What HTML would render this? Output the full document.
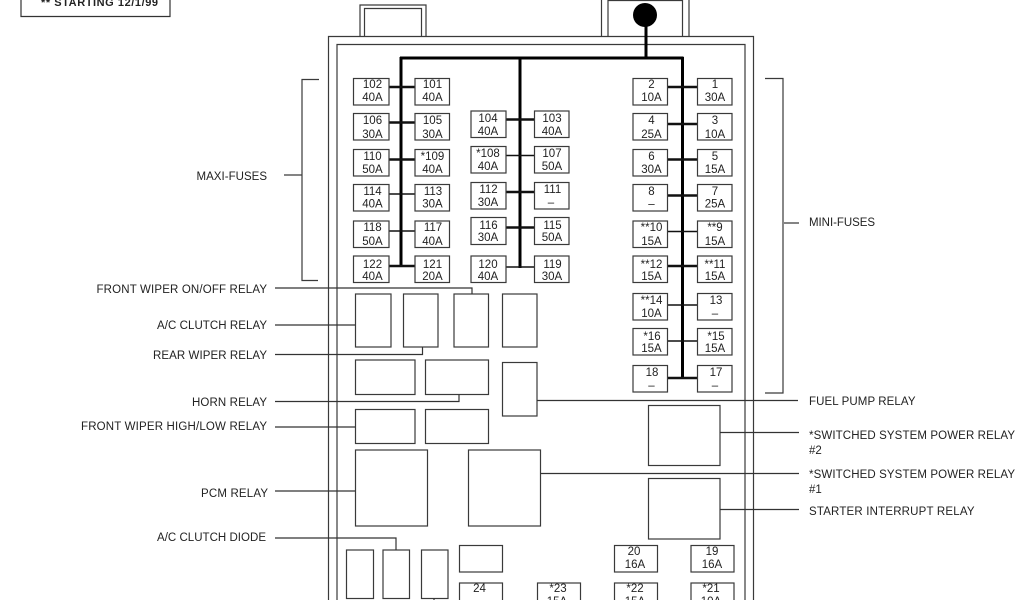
<!DOCTYPE html>
<html><head><meta charset="utf-8"><title>Fuse panel diagram</title>
<style>
html,body{margin:0;padding:0;background:#fff;width:1024px;height:600px;overflow:hidden}
svg{display:block}
text{font-family:"Liberation Sans",sans-serif;fill:#222}
.l{font-size:11.5px}
.f{font-size:11.5px;text-anchor:middle}
.b rect,.b path{fill:none;stroke:#3a3a3a;stroke-width:1.2}
.w{fill:none;stroke:#333;stroke-width:1.2}
.t{fill:none;stroke:#111;stroke-width:2.4}
.m{fill:none;stroke:#111;stroke-width:1.6}
.k{fill:none;stroke:#000;stroke-width:3}
</style></head><body>
<svg width="1024" height="600" viewBox="0 0 1024 600" xmlns="http://www.w3.org/2000/svg">
<path class="w" d="M21 -2V16.5H170V-2"/>
<text x="41" y="6" font-size="11" font-weight="bold" textLength="117" lengthAdjust="spacing">** STARTING 12/1/99</text>

<g class="b">
<path d="M360 36V5H426V36M364.500 36V8.500H421.500V36"/>
<path d="M601.500 36V-2M689 36V-2M608 36V0.500H682.500V36"/>
<path d="M328.500 600V36.500H753.500V600M337 600V44.500H745V600"/>
<path d="M319 79.500H302V280.500H318M284 175H302"/>
<path d="M765 78.500H783V393H765M784 223H799"/>
</g>

<circle cx="645" cy="15" r="12" fill="#000"/>
<path class="k" d="M646 25V58M400 58H683.500M401 57V266M520 57V268M682.500 57V379"/>

<g class="t">
<path d="M389 87H415M389 122.500H415M389 159.500H415M389 266H415"/>
<path d="M506 119.500H534M506 192H534M506 227.500H534"/>
<path d="M667 87H697M667 124H697M667 159.500H697M667 195.500H697M667 266H697M667 378H697"/>
</g>
<g class="m">
<path d="M389 194H415M389 231H415"/>
<path d="M506 155.500H534M506 267H534"/>
<path d="M667 231.500H697M667 305H697M667 341H697"/>
</g>

<g class="b">
<rect x="353.500" y="78.500" width="35.500" height="26.500" fill="#fff"/>
<rect x="353.500" y="113.500" width="35.500" height="26.500"/>
<rect x="353.500" y="149.500" width="35.500" height="26.500"/>
<rect x="353.500" y="184.500" width="35.500" height="26.500"/>
<rect x="353.500" y="221" width="35.500" height="26.500"/>
<rect x="353.500" y="256" width="35.500" height="26.500"/>
<rect x="415" y="78.500" width="34.500" height="26.500"/>
<rect x="415" y="113.500" width="34.500" height="26.500"/>
<rect x="415" y="149.500" width="34.500" height="26.500"/>
<rect x="415" y="184.500" width="34.500" height="26.500"/>
<rect x="415" y="221" width="34.500" height="26.500"/>
<rect x="415" y="256" width="34.500" height="26.500"/>
<rect x="471" y="111" width="35" height="26.500"/>
<rect x="471" y="146.500" width="35" height="26.500"/>
<rect x="471" y="182.500" width="35" height="26.500"/>
<rect x="471" y="217.500" width="35" height="27"/>
<rect x="471" y="256" width="35" height="26.500"/>
<rect x="534.500" y="111" width="34.500" height="26.500"/>
<rect x="534.500" y="146.500" width="34.500" height="26.500"/>
<rect x="534.500" y="182.500" width="34.500" height="26.500"/>
<rect x="534.500" y="217.500" width="34.500" height="27"/>
<rect x="534.500" y="256" width="34.500" height="26.500"/>
<rect x="633" y="78.500" width="34.500" height="26.500"/>
<rect x="633" y="113.500" width="34.500" height="26.500"/>
<rect x="633" y="149.500" width="34.500" height="26.500"/>
<rect x="633" y="184.500" width="34.500" height="26.500"/>
<rect x="633" y="221" width="34.500" height="26.500"/>
<rect x="633" y="256" width="34.500" height="26.500"/>
<rect x="633" y="293.500" width="34.500" height="26.500"/>
<rect x="633" y="328.500" width="34.500" height="26.500"/>
<rect x="633" y="365.500" width="34.500" height="26.500"/>
<rect x="697.500" y="78.500" width="34.500" height="26.500"/>
<rect x="697.500" y="113.500" width="34.500" height="26.500"/>
<rect x="697.500" y="149.500" width="34.500" height="26.500"/>
<rect x="697.500" y="184.500" width="34.500" height="26.500"/>
<rect x="697.500" y="221" width="34.500" height="26.500"/>
<rect x="697.500" y="256" width="34.500" height="26.500"/>
<rect x="697.500" y="293.500" width="34.500" height="26.500"/>
<rect x="697.500" y="328.500" width="34.500" height="26.500"/>
<rect x="697.500" y="365.500" width="34.500" height="26.500"/>

<rect x="355.500" y="294" width="35.500" height="53"/>
<rect x="403.500" y="294" width="34.500" height="53"/>
<rect x="454" y="294" width="34.500" height="53"/>
<rect x="502.500" y="294" width="34.500" height="53"/>
<rect x="355.500" y="360" width="59.500" height="34.500"/>
<rect x="425.500" y="360" width="63" height="34.500"/>
<rect x="502.500" y="362.500" width="34.500" height="53.500"/>
<rect x="355.500" y="409.500" width="59.500" height="34"/>
<rect x="425.500" y="409.500" width="63" height="34"/>
<rect x="355.500" y="450" width="72" height="76"/>
<rect x="468.500" y="450" width="72" height="76"/>
<rect x="648.500" y="405.500" width="71.500" height="60"/>
<rect x="648.500" y="478.500" width="71.500" height="60.500"/>

<rect x="346.500" y="550" width="27" height="48.500"/>
<rect x="383" y="550" width="26.500" height="48.500"/>
<rect x="421.500" y="550" width="26.500" height="48.500"/>
<rect x="459.500" y="545.500" width="43" height="26.500"/>
<rect x="614.500" y="545.500" width="43" height="26.500"/>
<rect x="691" y="545.500" width="43" height="26.500"/>
<rect x="459.500" y="583" width="43" height="30"/>
<rect x="537.500" y="583" width="43" height="30"/>
<rect x="614.500" y="583" width="43" height="30"/>
<rect x="691" y="583" width="43" height="30"/>
</g>

<path class="w" d="M275 288H472V294M275 325H355.500M275 354.500H422.500V347M275 401.500H459V394.500M275 427H355.500M275 491H355.500M275 538H396V550M434 598V600"/>
<path class="w" d="M537 400.500H798M720 432.500H799M540.500 473.500H799M720 509.500H799"/>

<g class="l">
<text x="196.500" y="180" textLength="70.500" lengthAdjust="spacing">MAXI-FUSES</text>
<text x="96.500" y="293" textLength="170.500" lengthAdjust="spacing">FRONT WIPER ON/OFF RELAY</text>
<text x="157" y="329" textLength="110" lengthAdjust="spacing">A/C CLUTCH RELAY</text>
<text x="153" y="359" textLength="114" lengthAdjust="spacing">REAR WIPER RELAY</text>
<text x="192" y="406" textLength="75" lengthAdjust="spacing">HORN RELAY</text>
<text x="81" y="430" textLength="186" lengthAdjust="spacing">FRONT WIPER HIGH/LOW RELAY</text>
<text x="201" y="497" textLength="67" lengthAdjust="spacing">PCM RELAY</text>
<text x="157" y="541" textLength="109" lengthAdjust="spacing">A/C CLUTCH DIODE</text>
<text x="809" y="226" textLength="66" lengthAdjust="spacing">MINI-FUSES</text>
<text x="809" y="405" textLength="106.500" lengthAdjust="spacing">FUEL PUMP RELAY</text>
<text x="809" y="439" textLength="206" lengthAdjust="spacing">*SWITCHED SYSTEM POWER RELAY</text>
<text x="809" y="454">#2</text>
<text x="809" y="478" textLength="206" lengthAdjust="spacing">*SWITCHED SYSTEM POWER RELAY</text>
<text x="809" y="493">#1</text>
<text x="809" y="515" textLength="165.500" lengthAdjust="spacing">STARTER INTERRUPT RELAY</text>
</g>

<g class="f">
<text x="372.500" y="88">102</text><text x="372.500" y="101">40A</text>
<text x="372.500" y="124">106</text><text x="372.500" y="138">30A</text>
<text x="372.500" y="160">110</text><text x="372.500" y="173">50A</text>
<text x="372.500" y="195">114</text><text x="372.500" y="207.500">40A</text>
<text x="372.500" y="231">118</text><text x="372.500" y="245">50A</text>
<text x="372.500" y="268">122</text><text x="372.500" y="280">40A</text>
<text x="432.500" y="88">101</text><text x="432.500" y="101">40A</text>
<text x="432.500" y="124">105</text><text x="432.500" y="138">30A</text>
<text x="432.500" y="160">*109</text><text x="432.500" y="173">40A</text>
<text x="433" y="195">113</text><text x="432.500" y="207.500">30A</text>
<text x="433" y="231">117</text><text x="432.500" y="245">40A</text>
<text x="432.500" y="268">121</text><text x="432.500" y="280">20A</text>
<text x="488" y="122">104</text><text x="488" y="135">40A</text>
<text x="488" y="157">*108</text><text x="488" y="170">40A</text>
<text x="488.500" y="193">112</text><text x="488" y="206">30A</text>
<text x="488.500" y="229">116</text><text x="488" y="241">30A</text>
<text x="488" y="268">120</text><text x="488" y="280">40A</text>
<text x="552" y="122">103</text><text x="552" y="135">40A</text>
<text x="552" y="157">107</text><text x="552" y="170">50A</text>
<text x="552.500" y="193">111</text><text x="551" y="206">–</text>
<text x="552.500" y="229">115</text><text x="552" y="241">50A</text>
<text x="552.500" y="268">119</text><text x="552" y="280">30A</text>
<text x="651.500" y="88">2</text><text x="651.500" y="101">10A</text>
<text x="651.500" y="124">4</text><text x="651.500" y="138">25A</text>
<text x="651.500" y="160">6</text><text x="651.500" y="173">30A</text>
<text x="651.500" y="195">8</text><text x="651.500" y="207.500">–</text>
<text x="651.500" y="231">**10</text><text x="651.500" y="245">15A</text>
<text x="651.500" y="268">**12</text><text x="651.500" y="280">15A</text>
<text x="651.500" y="304">**14</text><text x="651.500" y="317">10A</text>
<text x="652" y="340">*16</text><text x="651.500" y="352">15A</text>
<text x="652" y="376">18</text><text x="651.500" y="389">–</text>
<text x="715" y="88">1</text><text x="715" y="101">30A</text>
<text x="715" y="124">3</text><text x="715" y="138">10A</text>
<text x="715" y="160">5</text><text x="715" y="173">15A</text>
<text x="715" y="195">7</text><text x="715" y="207.500">25A</text>
<text x="715" y="231">**9</text><text x="715" y="245">15A</text>
<text x="715" y="268">**11</text><text x="715" y="280">15A</text>
<text x="716" y="304">13</text><text x="715" y="317">–</text>
<text x="716" y="340">*15</text><text x="715" y="352">15A</text>
<text x="716" y="376">17</text><text x="715" y="389">–</text>
<text x="634" y="555">20</text><text x="635" y="568">16A</text>
<text x="712" y="555">19</text><text x="712" y="568">16A</text>
<text x="479.500" y="592">24</text>
<text x="558" y="592">*23</text><text x="557" y="605">15A</text>
<text x="635" y="592">*22</text><text x="635" y="605">15A</text>
<text x="711" y="592">*21</text><text x="711" y="605">10A</text>
</g>
</svg>
</body></html>
